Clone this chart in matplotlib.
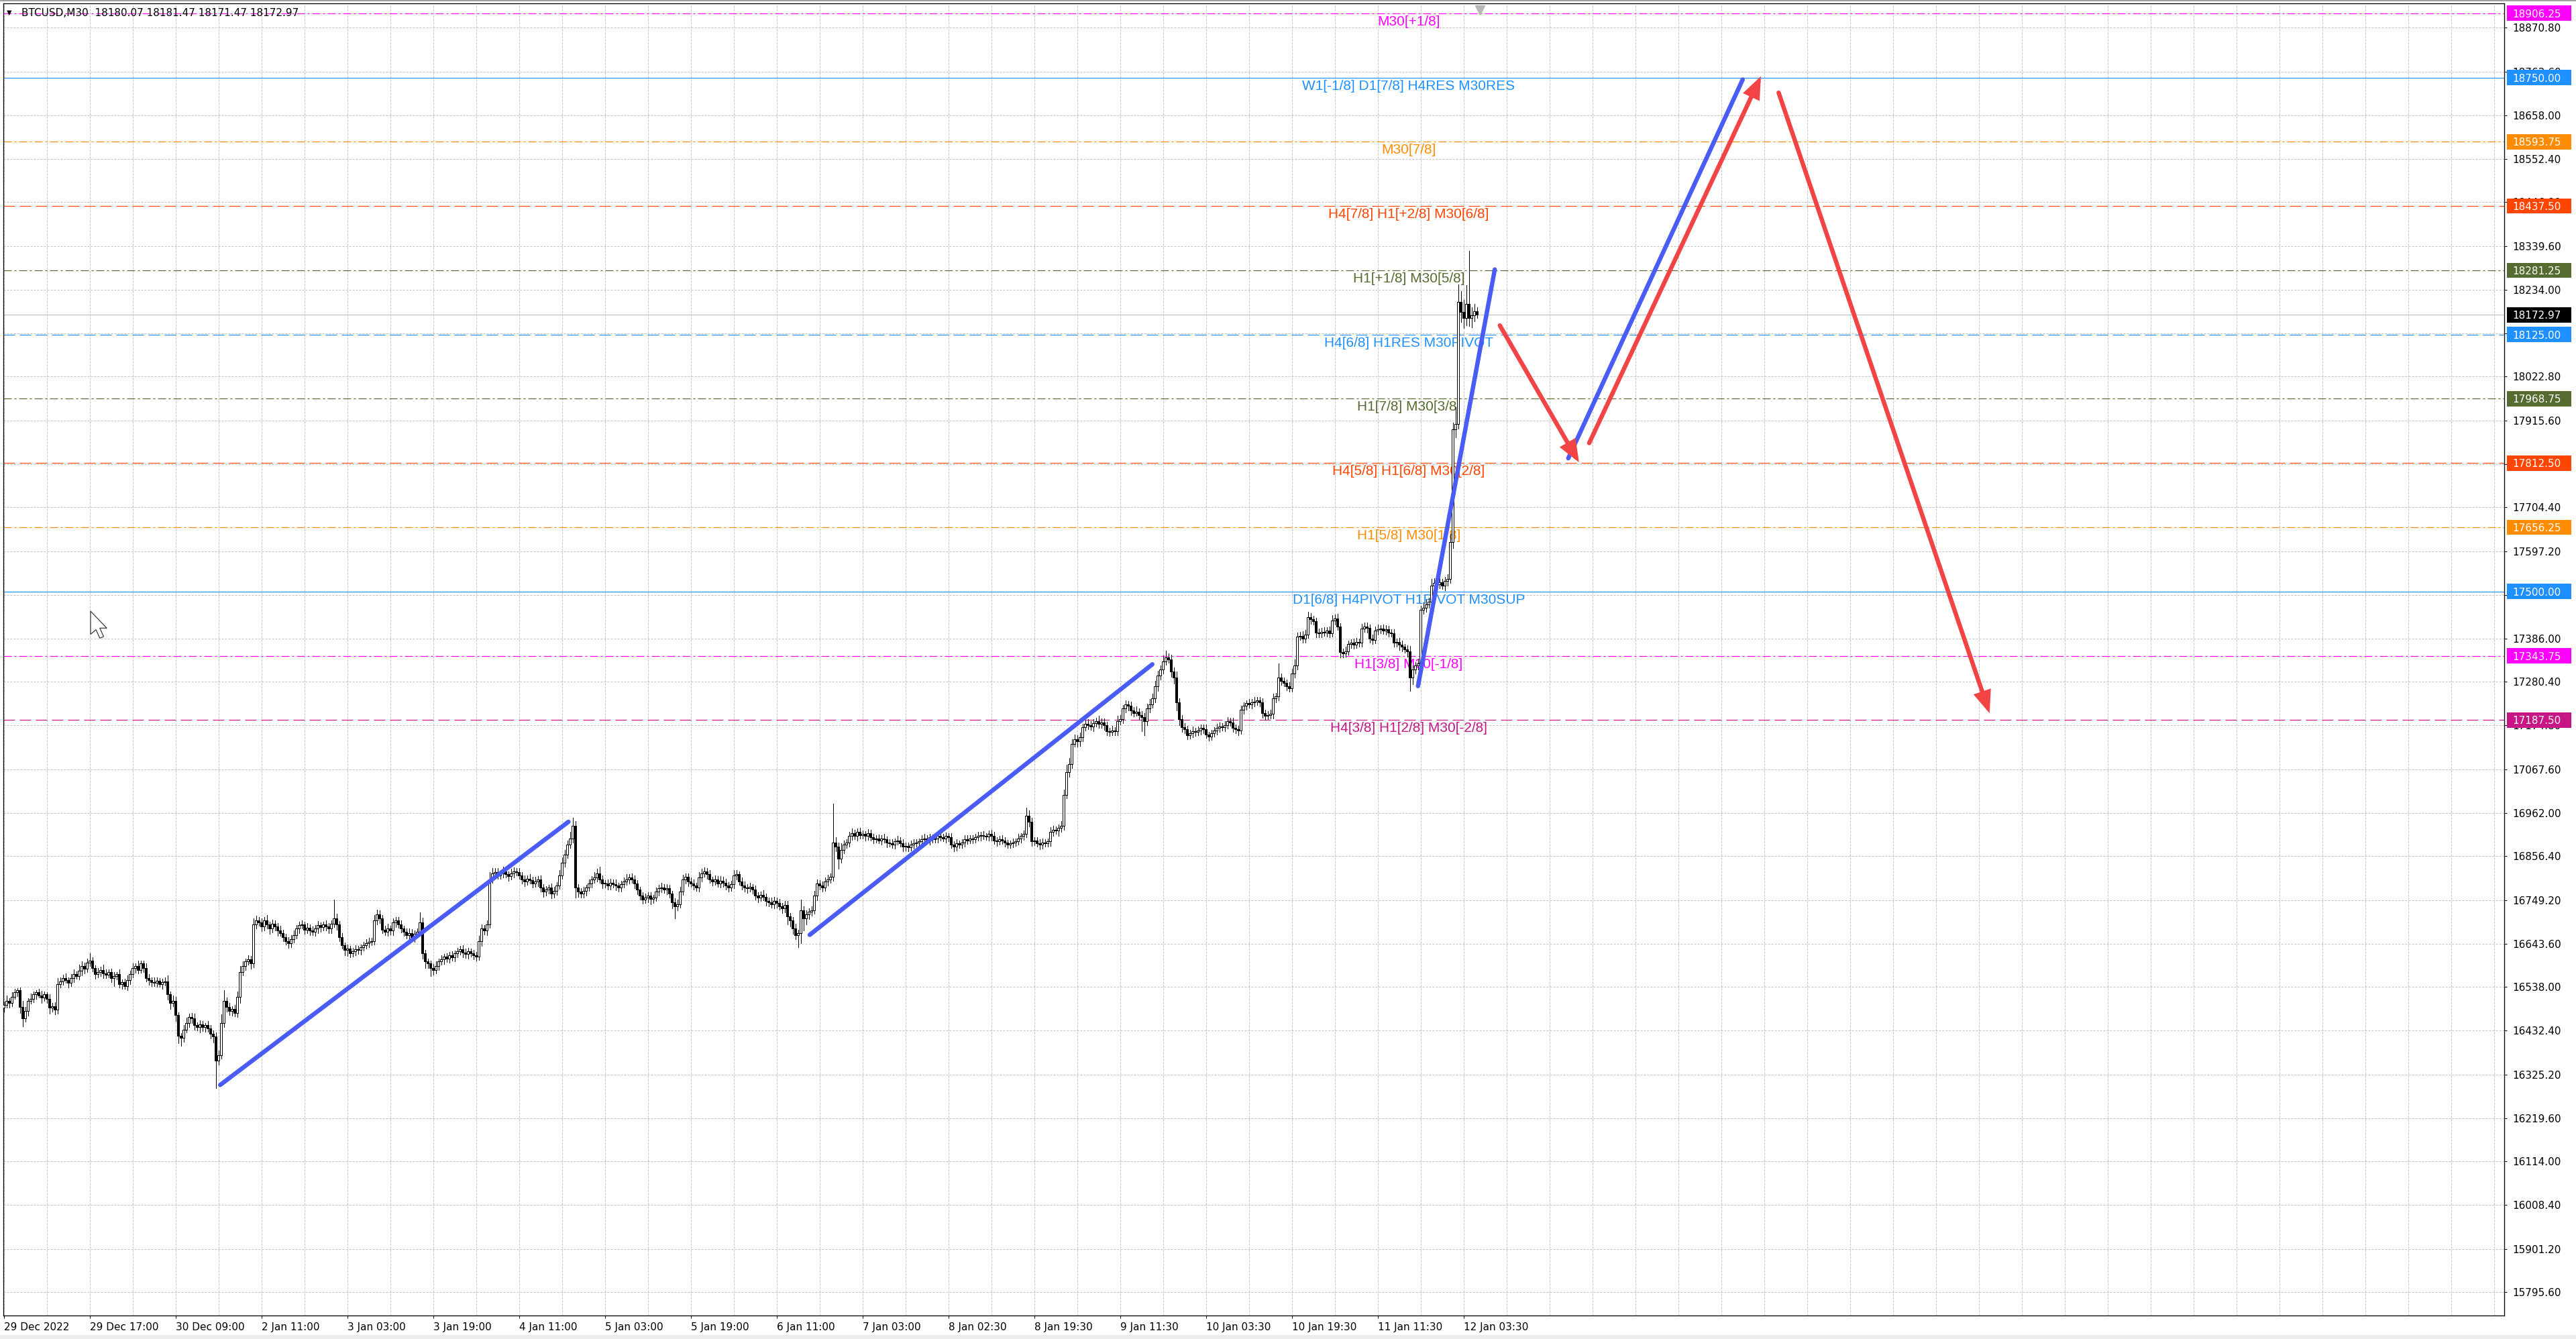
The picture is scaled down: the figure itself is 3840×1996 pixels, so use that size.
import numpy as np
import matplotlib
matplotlib.use("Agg")
import matplotlib.pyplot as plt
from matplotlib.patches import Rectangle, Polygon
from matplotlib.transforms import blended_transform_factory

plt.rcParams['lines.scale_dashes'] = False

# ---------------- data ----------------
symbol_header = "BTCUSD,M30  18180.07 18181.47 18171.47 18172.97"
last_price = 18172.97
first_open = 16488

closes = [
    16495, 16505, 16500, 16515, 16525, 16530, 16490, 16462, 16480, 16505,
    16510, 16520, 16525, 16518, 16512, 16520, 16510, 16488, 16492, 16483,
    16545, 16552, 16560, 16555, 16548, 16560, 16570, 16565, 16578, 16590,
    16582, 16598, 16603, 16585, 16570, 16575, 16580, 16572, 16568, 16575,
    16560, 16565, 16570, 16545, 16550, 16540, 16555, 16570, 16585, 16590,
    16580, 16595, 16585, 16560, 16555, 16550, 16548, 16553, 16545, 16550,
    16552, 16520, 16500, 16505, 16470, 16420, 16415, 16435, 16450, 16465,
    16462, 16445, 16440, 16448, 16440, 16445, 16438, 16425, 16418, 16360,
    16372, 16450, 16505, 16490, 16480, 16485, 16475, 16515, 16575, 16590,
    16600, 16605, 16595, 16690, 16700, 16695, 16685, 16700, 16690, 16680,
    16692, 16685, 16675, 16670, 16660, 16650, 16645, 16655, 16665, 16680,
    16688, 16690, 16678, 16682, 16675, 16672, 16680, 16688, 16684, 16690,
    16685, 16680, 16692, 16705, 16690, 16660, 16640, 16628, 16632, 16620,
    16625, 16630, 16628, 16635, 16640, 16645, 16648, 16650, 16700, 16715,
    16705, 16678, 16672, 16680, 16675, 16695, 16700, 16690, 16680, 16672,
    16665, 16670, 16660, 16668, 16672, 16695, 16620, 16600, 16595, 16585,
    16580, 16590, 16600, 16605, 16612, 16608, 16615, 16610, 16620, 16625,
    16630, 16622, 16618, 16625, 16620, 16615, 16612, 16650, 16680, 16675,
    16690, 16800, 16815, 16818, 16810, 16815, 16820, 16812, 16808, 16815,
    16820, 16818, 16810, 16800, 16795, 16802, 16798, 16790, 16795, 16800,
    16780, 16770, 16775, 16780, 16765, 16772, 16785, 16810, 16840, 16860,
    16885, 16900, 16930, 16780, 16770, 16765, 16772, 16780, 16790, 16800,
    16805, 16815, 16800, 16790, 16790, 16785, 16792, 16788, 16785, 16780,
    16788, 16795, 16800, 16805, 16800, 16790, 16775, 16760, 16750, 16755,
    16760, 16752, 16755, 16770, 16778, 16780, 16775, 16778, 16765, 16745,
    16735, 16740, 16770, 16800, 16806, 16795, 16790, 16785, 16780, 16805,
    16815, 16820, 16812, 16800, 16795, 16800, 16790, 16797, 16792, 16785,
    16780, 16788, 16810, 16812, 16795, 16785, 16780, 16778, 16782, 16775,
    16760, 16755, 16762, 16758, 16748, 16745, 16740, 16748, 16742, 16735,
    16730, 16738, 16710, 16700, 16680, 16665, 16670, 16725, 16705, 16715,
    16722, 16725, 16760, 16790, 16785, 16780, 16795, 16800, 16806, 16890,
    16880, 16850, 16872, 16885, 16890, 16905, 16912, 16905, 16915, 16908,
    16910, 16905, 16912, 16902, 16898, 16900, 16895, 16900, 16898, 16890,
    16888, 16885, 16892, 16895, 16888, 16880, 16882, 16878, 16885, 16888,
    16890, 16892, 16898, 16900, 16895, 16902, 16898, 16900, 16905, 16903,
    16900, 16905, 16902, 16885, 16880, 16888, 16885, 16890, 16898, 16895,
    16900, 16898, 16902, 16905, 16908, 16906, 16904, 16910, 16906, 16895,
    16892, 16898, 16895, 16890, 16885, 16888, 16890, 16892, 16900, 16905,
    16910, 16955, 16940, 16892, 16895, 16888, 16885, 16890, 16888, 16892,
    16915, 16920, 16918, 16925, 16930, 17005, 17060, 17080, 17130, 17140,
    17135, 17145, 17170, 17178, 17175, 17172, 17180, 17185, 17178, 17182,
    17175, 17160, 17158, 17162, 17160, 17185, 17190, 17215, 17225, 17222,
    17210, 17205, 17208, 17200, 17195, 17185, 17215, 17225, 17240, 17270,
    17295, 17310, 17330, 17340, 17335, 17305, 17290, 17230, 17190, 17170,
    17165, 17150, 17155, 17160, 17158, 17162, 17168, 17165, 17152, 17148,
    17155, 17162, 17168, 17172, 17170, 17175, 17185, 17182, 17168, 17165,
    17162, 17212, 17222, 17228, 17225, 17230, 17232, 17235, 17230, 17205,
    17198, 17200, 17202, 17240, 17245, 17290, 17282, 17278, 17270, 17265,
    17300, 17320, 17390, 17392, 17385, 17395, 17437, 17432, 17428, 17400,
    17398, 17402, 17400, 17405, 17398, 17430, 17435, 17415, 17352, 17350,
    17355, 17372, 17375, 17370, 17378, 17375, 17410, 17415, 17412, 17385,
    17382, 17405, 17408, 17410, 17405, 17408, 17400, 17398, 17375, 17378,
    17370, 17365, 17360, 17355, 17290, 17310, 17320, 17325, 17455, 17460,
    17468, 17475, 17515, 17520, 17518, 17522, 17515, 17525, 17530, 17620,
    17895, 17908, 18205, 18180, 18165, 18200, 18165, 18172, 18182, 18173,
]

wick_up = [
    8, 12, 6, 10, 9, 5, 7, 14, 10, 6, 12, 8, 5, 9, 11, 7, 6, 10, 8, 9, 15, 10, 8, 12, 6,
    9, 11, 7, 14, 10, 8, 9, 17, 8, 6, 10, 7, 12, 9, 6, 8, 10, 5, 11, 7, 9, 12, 8, 10, 6,
    12, 8, 7, 10, 9, 6, 11, 8, 7, 9, 10, 14, 8, 12, 9, 7, 6, 10, 13, 8, 10, 12, 7, 9, 8,
    6, 10, 8, 7, 9, 11, 22, 25, 8, 10, 7, 9, 12, 14, 10, 8, 11, 9, 15, 12, 9, 10, 8, 13, 7,
    10, 8, 9, 12, 7, 8, 10, 9, 11, 8, 9, 10, 7, 12, 8, 10, 9, 11, 8, 7, 10, 8, 9, 45, 12,
    8, 10, 7, 9, 6, 8, 10, 9, 7, 8, 10, 9, 8, 14, 12, 10, 8, 9, 12, 7, 10, 9, 8, 11, 7,
    8, 10, 9, 7, 8, 25, 12, 9, 8, 7, 9, 10, 8, 11, 7, 9, 8, 10, 7, 9, 8, 10, 9, 8, 7,
    9, 8, 12, 10, 9, 11, 18, 12, 9, 10, 8, 11, 9, 7, 10, 9, 8, 10, 7, 9, 8, 10, 9, 11, 8,
    10, 8, 9, 7, 10, 9, 8, 12, 14, 11, 10, 15, 20, 12, 8, 9, 10, 7, 9, 8, 12, 10, 15, 9, 8,
    10, 9, 8, 11, 7, 9, 10, 12, 8, 9, 10, 8, 7, 9, 10, 8, 9, 7, 10, 8, 11, 9, 10, 8, 7,
    9, 10, 12, 11, 9, 8, 10, 9, 7, 12, 10, 9, 8, 10, 7, 9, 8, 11, 9, 10, 8, 9, 12, 10, 8,
    9, 10, 8, 9, 7, 10, 8, 9, 11, 7, 8, 10, 9, 8, 10, 7, 9, 10, 8, 9, 12, 8, 25, 10, 9,
    8, 10, 12, 9, 8, 10, 9, 11, 8, 94, 12, 10, 15, 9, 8, 10, 12, 9, 8, 10, 9, 7, 10, 8, 9,
    7, 9, 8, 10, 6, 8, 9, 7, 10, 8, 9, 7, 8, 10, 9, 8, 7, 9, 10, 8, 9, 7, 8, 10, 6,
    8, 9, 7, 10, 8, 9, 7, 8, 10, 9, 8, 7, 9, 10, 8, 9, 7, 8, 10, 9, 8, 7, 9, 8, 6,
    7, 9, 8, 10, 8, 9, 20, 12, 9, 7, 8, 9, 10, 7, 8, 12, 10, 9, 8, 11, 14, 18, 15, 10, 12,
    10, 12, 9, 8, 11, 9, 10, 8, 12, 9, 10, 8, 9, 11, 8, 12, 10, 9, 11, 8, 10, 9, 12, 8, 9,
    10, 12, 14, 11, 13, 12, 10, 14, 16, 10, 12, 10, 15, 10, 9, 10, 8, 9, 12, 8, 10, 9, 8, 11, 7,
    9, 8, 10, 9, 8, 10, 9, 8, 11, 9, 8, 10, 9, 8, 10, 9, 12, 8, 9, 10, 8, 9, 10, 12, 9,
    35, 10, 9, 8, 10, 12, 14, 10, 9, 11, 12, 14, 10, 9, 8, 10, 9, 11, 8, 10, 12, 9, 10, 8, 9,
    10, 9, 8, 11, 9, 8, 12, 10, 9, 8, 10, 9, 11, 8, 9, 10, 8, 9, 10, 8, 9, 10, 8, 9, 12,
    10, 9, 11, 10, 14, 12, 10, 15, 12, 10, 11, 9, 10, 12, 20, 15, 40, 41, 25, 30, 45, 128, 20, 18, 10,
]

wick_dn = [
    10, 7, 12, 8, 6, 9, 15, 20, 8, 11, 7, 9, 10, 6, 12, 8, 10, 14, 9, 12, 10, 8, 9, 7, 11,
    8, 10, 6, 9, 12, 10, 7, 9, 8, 11, 9, 10, 12, 8, 7, 10, 20, 9, 8, 11, 7, 9, 10, 8, 12,
    9, 7, 10, 8, 12, 9, 8, 10, 7, 11, 8, 12, 15, 9, 14, 18, 20, 10, 8, 9, 11, 10, 8, 12, 9,
    10, 8, 12, 15, 67, 10, 8, 9, 11, 10, 12, 8, 10, 15, 9, 10, 8, 12, 9, 10, 8, 11, 9, 10, 12,
    9, 10, 12, 8, 11, 9, 12, 10, 8, 9, 10, 8, 11, 9, 10, 8, 9, 10, 12, 8, 9, 11, 10, 8, 12,
    10, 9, 12, 15, 10, 8, 9, 10, 11, 8, 9, 10, 8, 9, 10, 12, 9, 8, 10, 9, 10, 11, 8, 9, 10,
    9, 10, 8, 12, 9, 10, 12, 15, 10, 20, 12, 9, 10, 8, 11, 9, 10, 8, 9, 10, 8, 11, 9, 10, 8,
    10, 9, 8, 11, 9, 10, 8, 9, 10, 8, 9, 10, 8, 11, 9, 10, 8, 9, 10, 12, 9, 8, 10, 9, 11,
    10, 12, 9, 10, 11, 9, 10, 8, 9, 10, 8, 9, 10, 25, 12, 10, 9, 11, 8, 10, 9, 10, 8, 12, 10,
    9, 10, 8, 11, 9, 10, 8, 9, 10, 8, 11, 12, 10, 9, 8, 10, 12, 9, 8, 10, 9, 8, 11, 10, 15,
    30, 10, 9, 8, 10, 12, 9, 10, 8, 9, 10, 8, 11, 9, 10, 8, 9, 10, 11, 9, 10, 8, 9, 10, 8,
    10, 9, 11, 8, 10, 9, 10, 8, 9, 12, 10, 9, 11, 10, 9, 12, 10, 20, 15, 12, 10, 30, 25, 30, 15,
    12, 10, 9, 11, 10, 9, 8, 10, 9, 10, 12, 25, 10, 9, 8, 10, 9, 8, 10, 9, 8, 10, 9, 8, 10,
    9, 8, 10, 9, 12, 8, 9, 10, 8, 9, 12, 10, 9, 8, 10, 9, 8, 10, 9, 8, 10, 9, 8, 10, 9,
    8, 10, 9, 8, 12, 10, 9, 8, 10, 9, 8, 10, 9, 8, 10, 9, 8, 10, 12, 9, 10, 8, 9, 10, 9,
    8, 10, 9, 8, 10, 9, 8, 12, 10, 9, 8, 12, 10, 9, 8, 10, 9, 8, 12, 10, 9, 8, 10, 9, 8,
    12, 10, 9, 8, 10, 9, 11, 8, 10, 9, 12, 10, 9, 8, 10, 9, 8, 10, 9, 11, 10, 9, 8, 10, 35,
    35, 10, 9, 8, 10, 12, 9, 10, 8, 9, 12, 14, 20, 15, 12, 10, 9, 8, 10, 9, 8, 10, 9, 8, 10,
    9, 8, 10, 9, 8, 10, 9, 8, 10, 9, 12, 8, 9, 10, 8, 9, 10, 8, 9, 12, 10, 9, 8, 10, 9,
    10, 9, 8, 10, 9, 8, 10, 9, 8, 10, 9, 8, 10, 9, 12, 10, 9, 8, 10, 9, 8, 10, 9, 12, 10,
    9, 8, 10, 9, 8, 10, 9, 8, 12, 10, 9, 8, 10, 9, 8, 10, 9, 8, 10, 9, 12, 10, 9, 14, 32,
    15, 10, 9, 12, 10, 9, 8, 10, 9, 8, 10, 9, 12, 10, 9, 15, 20, 12, 25, 25, 18, 20, 22, 15, 8,
]

x_labels = ["29 Dec 2022", "29 Dec 17:00", "30 Dec 09:00", "2 Jan 11:00", "3 Jan 03:00",
            "3 Jan 19:00", "4 Jan 11:00", "5 Jan 03:00", "5 Jan 19:00", "6 Jan 11:00",
            "7 Jan 03:00", "8 Jan 02:30", "8 Jan 19:30", "9 Jan 11:30", "10 Jan 03:30",
            "10 Jan 19:30", "11 Jan 11:30", "12 Jan 03:30"]
bars_per_label = 32
bars_per_grid = 16

y_ticks = [18870.80, 18763.60, 18658.00, 18552.40, 18446.80, 18339.60, 18234.00,
           18128.40, 18022.80, 17915.60, 17810.00, 17704.40, 17597.20, 17491.60,
           17386.00, 17280.40, 17174.80, 17067.60, 16962.00, 16856.40, 16749.20,
           16643.60, 16538.00, 16432.40, 16325.20, 16219.60, 16114.00, 16008.40,
           15901.20, 15795.60]

level_prices = [18906.25, 18750.00, 18593.75, 18437.50, 18281.25, 18125.00,
                17968.75, 17812.50, 17656.25, 17500.00, 17343.75, 17187.50]
level_labels = ["M30[+1/8]", "W1[-1/8] D1[7/8] H4RES M30RES", "M30[7/8]",
                "H4[7/8] H1[+2/8] M30[6/8]", "H1[+1/8] M30[5/8]",
                "H4[6/8] H1RES M30PIVOT", "H1[7/8] M30[3/8]",
                "H4[5/8] H1[6/8] M30[2/8]", "H1[5/8] M30[1/8]",
                "D1[6/8] H4PIVOT H1PIVOT M30SUP", "H1[3/8] M30[-1/8]",
                "H4[3/8] H1[2/8] M30[-2/8]"]
level_colors = ['#FF00FF', '#1E90FF', '#FF8C00', '#FF4500', '#556B2F', '#1E90FF',
                '#556B2F', '#FF4500', '#FF8C00', '#1E90FF', '#FF00FF', '#C71585']
level_styles = ['dashdot', 'solid', 'dashdot', 'dash', 'dashdot', 'dash',
                'dashdot', 'dash', 'dashdot', 'solid', 'dashdot', 'dash']
level_label_bar = 523.5

# trend lines (bar index, price)
blue_x0 = [80.6, 300.3, 527.0, 583.0]
blue_y0 = [16300, 16665, 17270, 17824]
blue_x1 = [210.4, 428.0, 555.6, 648.0]
blue_y1 = [16940, 17323, 18283, 18745]

red_x0 = [557.5, 590.8, 661.4]
red_y0 = [18147, 17861, 18713]
red_x1 = [587.0, 654.8, 740.0]
red_y1 = [17814, 18753, 17204]

# ---------------- figure ----------------
W, H, DPI = 3840, 1996, 100
PX = 72.0 / DPI  # points per pixel
fig = plt.figure(figsize=(W / DPI, H / DPI), dpi=DPI)
fig.patch.set_facecolor('white')
ax = fig.add_axes([5 / W, 1 - 1961 / H, (3733 - 5) / W, (1961 - 5) / H])
ax.set_facecolor('white')

n = len(closes)
xb = np.arange(n)
c = np.array(closes, dtype=float)
o = np.concatenate([[first_open], c[:-1]])
hi = np.maximum(o, c) + np.array(wick_up)
lo = np.minimum(o, c) - np.array(wick_dn)

ax.set_xlim(-0.2, 931.8)
ax.set_ylim(15739.3, 18930.3)

grid_kw = dict(color='#c0c0c0', lw=1 * PX, dashes=(3 * PX, 2 * PX), zorder=1)
for gx in np.arange(0, 932, bars_per_grid):
    ax.axvline(gx, **grid_kw)
for gy in y_ticks:
    ax.axhline(gy, **grid_kw)

dash_map = {'solid': None,
            'dash': (17 * PX, 7 * PX),
            'dashdot': (12 * PX, 4 * PX, 3 * PX, 4 * PX)}
for p, lab, col, st in zip(level_prices, level_labels, level_colors, level_styles):
    kw = dict(color=col, lw=1.2 * PX, zorder=2.2)
    if dash_map[st] is not None:
        kw['dashes'] = dash_map[st]
    ax.axhline(p, **kw)
    ax.annotate(lab, xy=(level_label_bar, p), xytext=(0, -3), textcoords='offset pixels',
                ha='center', va='top', color=col, fontsize=15,
                family=['Liberation Sans', 'DejaVu Sans'], zorder=3)

# current price line
ax.axhline(last_price, color='#c0c0c0', lw=1.2 * PX, zorder=2)

# candles
ax.vlines(xb, lo, hi, color='black', lw=1 * PX, zorder=4, antialiased=False)
bull = c >= o
body_b = np.minimum(o, c)
body_h = np.maximum(np.abs(c - o), 1.6)
ax.bar(xb[bull], body_h[bull], bottom=body_b[bull], width=0.72, facecolor='white',
       edgecolor='black', lw=1 * PX, zorder=5, antialiased=False)
ax.bar(xb[~bull], body_h[~bull], bottom=body_b[~bull], width=0.72, facecolor='black',
       edgecolor='black', lw=1 * PX, zorder=5, antialiased=False)

# blue trend lines
for x0, y0, x1, y1 in zip(blue_x0, blue_y0, blue_x1, blue_y1):
    ax.plot([x0, x1], [y0, y1], color='#4a5cf6', lw=6.5 * PX,
            solid_capstyle='round', zorder=6)

# red arrows
for x0, y0, x1, y1 in zip(red_x0, red_y0, red_x1, red_y1):
    ax.annotate('', xy=(x1, y1), xytext=(x0, y0),
                arrowprops=dict(arrowstyle='-|>,head_length=0.5,head_width=0.2',
                                mutation_scale=32, color='#f24444', lw=6.5 * PX,
                                shrinkA=0, shrinkB=0, capstyle='round',
                                joinstyle='miter'),
                zorder=7)

# chart shift marker
ax.plot([n], [1 - 9.5 / 1956], marker='v', ms=10, color='#b8b8b8',
        transform=blended_transform_factory(ax.transData, ax.transAxes),
        clip_on=False, zorder=8)

# axes styling
for s in ax.spines.values():
    s.set_color('black')
    s.set_linewidth(1.3 * PX)
ax.yaxis.tick_right()
ax.set_yticks(y_ticks)
ax.set_yticklabels(['%.2f' % v for v in y_ticks])
ax.tick_params(axis='y', direction='out', length=3, width=1 * PX, pad=6,
               labelsize=11, labelcolor='black')
xt = np.arange(len(x_labels)) * bars_per_label
ax.set_xticks(xt)
ax.set_xticklabels(x_labels)
ax.tick_params(axis='x', direction='out', length=3, width=1 * PX, pad=4,
               labelsize=11, labelcolor='black')
for t in ax.get_xticklabels():
    t.set_ha('left')
for t in ax.get_xticklabels() + ax.get_yticklabels():
    t.set_family(['DejaVu Sans'])

# right-side price boxes
tr = blended_transform_factory(ax.transAxes, ax.transData)
box_prices = level_prices + [last_price]
box_colors = level_colors + ['#000000']
axw = 3733 - 5
for p, col in zip(box_prices, box_colors):
    ax.add_patch(Rectangle((1 + 4 / axw, p - 18.5), 96 / axw, 37, transform=tr,
                           facecolor=col, edgecolor='none', clip_on=False, zorder=20))
    ax.text(1 + 12 / axw, p, '%.2f' % p, transform=tr, color='white', fontsize=11,
            va='center_baseline', ha='left', clip_on=False, zorder=21,
            family=['DejaVu Sans'])

# header
fig.text(10 / W, 1 - 19 / H, '\u25BC', fontsize=7, va='center', ha='left', color='black',
         family=['DejaVu Sans'])
fig.text(32 / W, 1 - 19 / H, symbol_header, fontsize=11, va='center', ha='left',
         color='black', family=['DejaVu Sans'])

# mouse pointer left on the chart (screen decoration)
cursor_px = [(0, 0), (0, 30), (7, 24), (12, 35), (17, 33), (12, 22), (21, 22)]
tip_x, tip_y = 135, 911
fig.add_artist(Polygon([((tip_x + dx * 1.15) / W, 1 - (tip_y + dy * 1.15) / H)
                        for dx, dy in cursor_px],
                       closed=True, transform=fig.transFigure, facecolor='white',
                       edgecolor='#333333', lw=1.2 * PX, zorder=30))

# window borders
fig.add_artist(Rectangle((0, 0), 1, 6 / H, transform=fig.transFigure,
                         facecolor='#ececec', edgecolor='none', zorder=0.5))
fig.add_artist(Rectangle((0, 1 - 2 / H), 1, 2 / H, transform=fig.transFigure,
                         facecolor='#a0a0a0', edgecolor='none', zorder=0.5))

fig.savefig('out.png', dpi=DPI, facecolor='white')
